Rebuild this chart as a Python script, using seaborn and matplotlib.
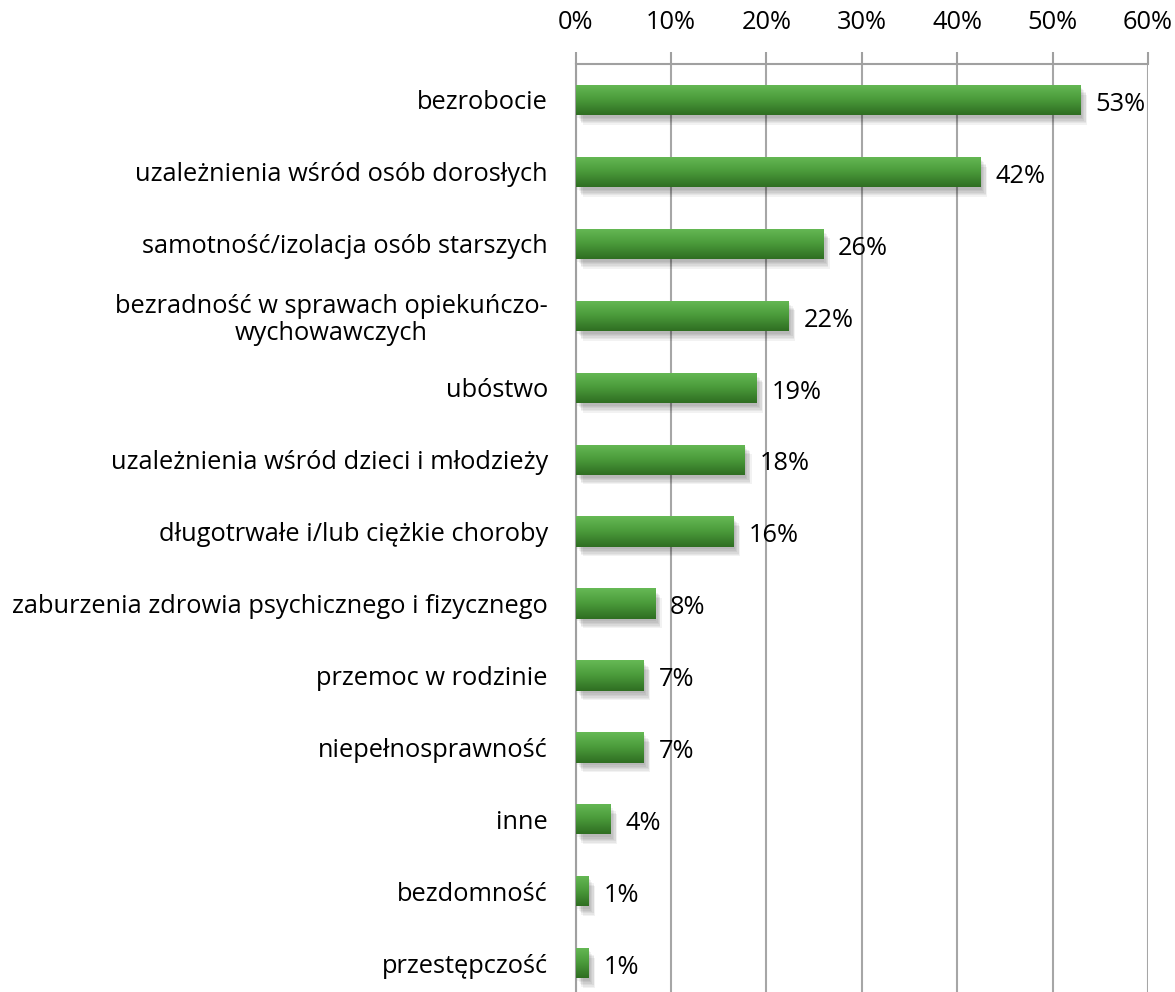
import numpy as np
import pandas as pd
import matplotlib
matplotlib.use("Agg")
import matplotlib.pyplot as plt
import matplotlib.patheffects as pe
from matplotlib.colors import LinearSegmentedColormap
import seaborn as sns

categories = ["bezrobocie",
              "uzależnienia wśród osób dorosłych",
              "samotność/izolacja osób starszych",
              "bezradność w sprawach opiekuńczo-\nwychowawczych",
              "ubóstwo",
              "uzależnienia wśród dzieci i młodzieży",
              "długotrwałe i/lub ciężkie choroby",
              "zaburzenia zdrowia psychicznego i fizycznego",
              "przemoc w rodzinie",
              "niepełnosprawność",
              "inne",
              "bezdomność",
              "przestępczość"]
values = [52.9, 42.4, 25.9, 22.3, 18.9, 17.7, 16.5, 8.3, 7.1, 7.1, 3.6, 1.3, 1.3]
value_labels = ["53%", "42%", "26%", "22%", "19%", "18%", "16%", "8%", "7%", "7%", "4%", "1%", "1%"]
xticks = [0, 10, 20, 30, 40, 50, 60]

sns.set_style("white")
plt.rcParams["font.family"] = ["Open Sans", "DejaVu Sans"]
plt.rcParams["text.color"] = "black"
plt.rcParams["xtick.labelcolor"] = "black"
plt.rcParams["ytick.labelcolor"] = "black"

df = pd.DataFrame({"kategoria": categories, "wartosc": values})

fig = plt.figure(figsize=(11.75, 9.92), dpi=100)
ax = fig.add_axes([0.490, 0.0, 0.487, 0.9355])

sns.barplot(data=df, x="wartosc", y="kategoria", color="#3f8f2e", width=0.42,
            orient="h", ax=ax, zorder=3, linewidth=0)

grad = LinearSegmentedColormap.from_list("g", ["#66b955", "#4a9a3a", "#2f6e22"])
gimg = np.linspace(0, 1, 64).reshape(-1, 1)
shadow = [pe.SimplePatchShadow(offset=(dx, dy), shadow_rgbFace="black", alpha=0.05)
          for dx, dy in [(5, -7), (4, -6), (4, -5), (3, -4), (2, -3), (1, -2)]]
for p in ax.patches:
    p.set_path_effects(shadow + [pe.Normal()])
    x0, y0 = p.get_x(), p.get_y()
    w, h = p.get_width(), p.get_height()
    im = ax.imshow(gimg, cmap=grad, aspect="auto", extent=[x0, x0 + w, y0 + h, y0],
                   zorder=4, origin="upper")
    im.set_clip_path(p)

for i, (v, lab) in enumerate(zip(values, value_labels)):
    ax.text(v + 1.6, i + 0.06, lab, va="center", ha="left", fontsize=18.3, zorder=5)

ax.set_xlim(0, 60)
ax.set_ylim(12.4, -0.5)
ax.set_xticks(xticks)
ax.set_xticklabels([f"{t}%" for t in xticks], fontsize=18.3)
ax.xaxis.tick_top()
ax.tick_params(axis="x", which="major", direction="out", length=9, width=1.5,
               color="#a0a0a0", pad=12, top=True, bottom=False)
ax.set_yticks(range(len(categories)))
ax.set_yticklabels(categories, fontsize=18.3, multialignment="center", linespacing=1.1)
ax.tick_params(axis="y", which="major", length=0, pad=20)
ax.set_yticks(np.arange(0.5, len(categories) - 0.5, 1), minor=True)
ax.tick_params(axis="y", which="minor", direction="out", length=7, width=1.5, color="#a0a0a0")
ax.set_xlabel("")
ax.set_ylabel("")

ax.grid(axis="x", color="#a6a6a6", linewidth=1.5)
ax.set_axisbelow(True)
for s in ["right", "bottom"]:
    ax.spines[s].set_visible(False)
for s in ["left", "top"]:
    ax.spines[s].set_color("#a0a0a0")
    ax.spines[s].set_linewidth(1.5)

fig.savefig("out.png", dpi=100)
